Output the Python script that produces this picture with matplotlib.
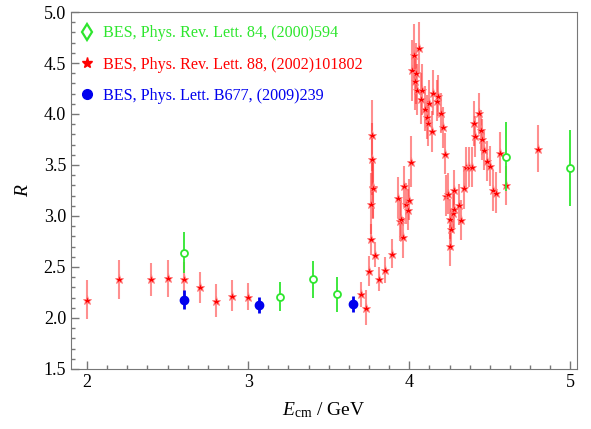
import matplotlib.pyplot as plt
from matplotlib.lines import Line2D
from matplotlib.ticker import MultipleLocator

plt.rcParams['font.family'] = ['Liberation Serif', 'DejaVu Serif']
plt.rcParams['mathtext.fontset'] = 'custom'
plt.rcParams['mathtext.rm'] = 'Liberation Serif'
plt.rcParams['mathtext.it'] = 'Liberation Serif:italic'

# BES, PRL 84 (2000) 594
e00 = [2.6, 3.2, 3.4, 3.55, 4.6, 5.0]
r00 = [2.64, 2.21, 2.38, 2.23, 3.58, 3.47]
d00 = [0.20, 0.14, 0.18, 0.17, 0.34, 0.37]

# BES, PRL 88 (2002) 101802
e02 = [2.00, 2.20, 2.40, 2.50, 2.60, 2.70, 2.80, 2.90, 3.00,
       3.70, 3.73, 3.75, 3.76, 3.764, 3.768, 3.770, 3.772, 3.776, 3.79,
       3.81, 3.85, 3.89, 3.93, 3.94, 3.95, 3.96, 3.97, 3.98, 3.99, 4.00,
       4.01, 4.02, 4.03, 4.033, 4.04, 4.05, 4.06, 4.07, 4.08, 4.10,
       4.11, 4.115, 4.12, 4.14, 4.15, 4.17, 4.18, 4.20, 4.21, 4.22,
       4.23, 4.24, 4.25, 4.255, 4.26, 4.27, 4.275, 4.28, 4.31, 4.32,
       4.34, 4.35, 4.37, 4.39, 4.40, 4.41, 4.435, 4.447, 4.454, 4.466,
       4.485, 4.50, 4.52, 4.54, 4.565, 4.60, 4.80]
r02 = [2.18, 2.38, 2.38, 2.39, 2.38, 2.30, 2.17, 2.22, 2.21,
       2.23, 2.10, 2.46, 2.77, 3.12, 3.56, 3.79, 3.28, 3.27, 2.62,
       2.38, 2.47, 2.63, 3.18, 2.95, 2.97, 2.79, 3.29, 3.12, 3.06, 3.16,
       3.53, 4.43, 4.58, 4.32, 4.40, 4.24, 4.65, 4.15, 4.24, 4.05,
       3.97, 3.91, 4.11, 3.83, 4.21, 4.13, 4.18, 4.01, 3.87, 3.61,
       3.20, 3.22, 2.97, 2.71, 2.87, 3.03, 3.25, 3.07, 3.11, 2.96,
       3.27, 3.48, 3.48, 3.48, 3.91, 3.78, 4.01, 3.84, 3.75, 3.65,
       3.54, 3.49, 3.25, 3.23, 3.62, 3.30, 3.66]
d02 = [0.19, 0.19, 0.16, 0.18, 0.17, 0.15, 0.16, 0.15, 0.13,
       0.12, 0.17, 0.15, 0.15, 0.30, 0.35, 0.35, 0.30, 0.30, 0.12,
       0.12, 0.13, 0.14, 0.20, 0.20, 0.20, 0.20, 0.20, 0.20, 0.20, 0.20,
       0.25, 0.30, 0.30, 0.28, 0.30, 0.25, 0.25, 0.25, 0.25, 0.22,
       0.22, 0.22, 0.22, 0.20, 0.22, 0.20, 0.20, 0.20, 0.20, 0.20,
       0.20, 0.20, 0.20, 0.20, 0.20, 0.20, 0.20, 0.20, 0.20, 0.20,
       0.20, 0.20, 0.20, 0.20, 0.22, 0.20, 0.20, 0.20, 0.20, 0.20,
       0.20, 0.20, 0.20, 0.20, 0.20, 0.19, 0.23]

# BES, PLB 677 (2009) 239
e09 = [2.60, 3.07, 3.65]
r09 = [2.18, 2.13, 2.14]
d09 = [0.09, 0.08, 0.08]

labels = ['BES, Phys. Rev. Lett. 84, (2000)594',
          'BES, Phys. Rev. Lett. 88, (2002)101802',
          'BES, Phys. Lett. B677, (2009)239']
green = '#2ee62e'
red = '#ff0000'
blue = '#0000ee'

fig = plt.figure(figsize=(5.91, 4.29), dpi=100)
ax = fig.add_axes([0.120, 0.140, 0.856, 0.832])

ax.errorbar(e02, r02, yerr=d02, fmt='*', color=red, ms=6.5,
            mfc=red, mec='#ff8080', mew=0.6,
            ecolor=(1, 0.2, 0.2, 0.55), elinewidth=1.5, capsize=0, zorder=3)
ax.errorbar(e00, r00, yerr=d00, fmt='o', color=green, ms=5,
            mfc='white', mec=green, mew=1.3,
            ecolor=green, elinewidth=1.3, capsize=0, zorder=4)
ax.errorbar(e09, r09, yerr=d09, fmt='o', color=blue, ms=6,
            mfc=blue, mec=blue,
            ecolor=blue, elinewidth=2, capsize=0, zorder=4)

ax.set_xlim(1.9, 5.04)
ax.set_ylim(1.5, 5.0)
ax.xaxis.set_major_locator(MultipleLocator(1))
ax.xaxis.set_minor_locator(MultipleLocator(0.125))
ax.yaxis.set_major_locator(MultipleLocator(0.5))
ax.yaxis.set_minor_locator(MultipleLocator(0.1))
ax.xaxis.set_major_formatter(plt.FuncFormatter(lambda v, p: '%d' % v))
ax.yaxis.set_major_formatter(plt.FuncFormatter(lambda v, p: '%.1f' % v))
ax.tick_params(which='both', direction='in', top=False, right=False,
               color='#777777', labelsize=13)
ax.tick_params(which='major', length=6, width=1)
ax.tick_params(which='minor', length=3, width=1)
for s in ax.spines.values():
    s.set_color('#777777')

ax.set_xlabel(r'$E_{\mathrm{cm}}$ / GeV', fontsize=14, labelpad=7)
ax.set_ylabel(r'$R$', fontsize=14, labelpad=8)

handles = [Line2D([], [], ls='none', marker='d', ms=8, mfc='white', mec=green, mew=1.6),
           Line2D([], [], ls='none', marker='*', ms=8, mfc=red, mec=red),
           Line2D([], [], ls='none', marker='o', ms=7, mfc=blue, mec=blue)]
leg = ax.legend(handles, labels, loc='upper left', bbox_to_anchor=(-0.012, 1.003),
                frameon=False, fontsize=11.6, labelspacing=0.95,
                handlelength=1.0, handletextpad=0.45, borderaxespad=0.5)
for t, c in zip(leg.get_texts(), [green, red, blue]):
    t.set_color(c)

fig.savefig('out.png', dpi=100)
